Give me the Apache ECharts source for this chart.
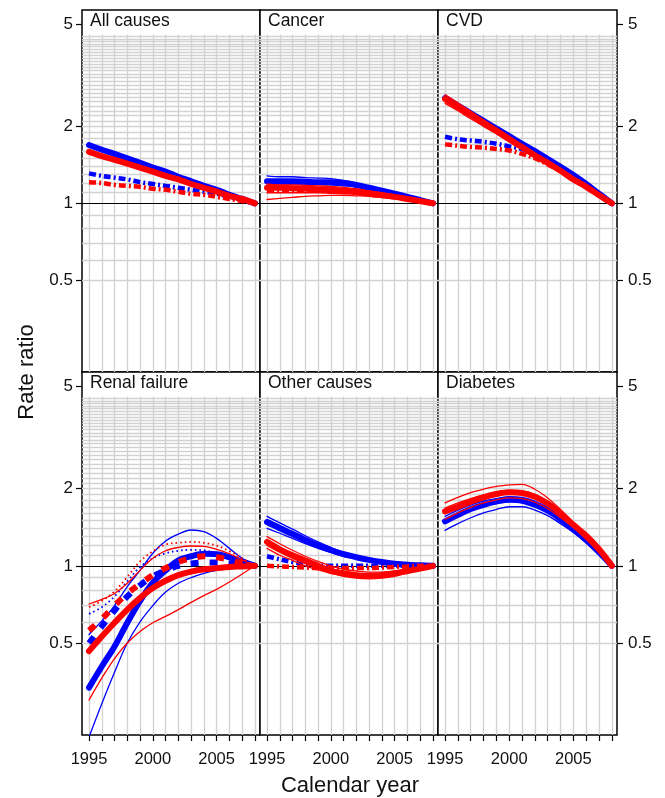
<!DOCTYPE html>
<html>
<head>
<meta charset="utf-8">
<script src="https://cdn.jsdelivr.net/npm/echarts@6/dist/echarts.min.js"></script>
<style>
  html, body { margin: 0; padding: 0; background: #fff; }
  #chart { width: 665px; height: 798px; }
</style>
</head>
<body>
<div id="chart"></div>
<script>
// ---- data ---------------------------------------------------------------
const years = [1995, 1996, 1997, 1998, 1999, 2000, 2001, 2002, 2003, 2004, 2005, 2006, 2007, 2008];
const xTickLabels = [1995, 2000, 2005];
const yTickLabels = [0.5, 1, 2, 5];
const panelTitles = ['All causes', 'Cancer', 'CVD', 'Renal failure', 'Other causes', 'Diabetes'];

// All causes
const allBlueSolid   = [1.69, 1.62, 1.56, 1.50, 1.44, 1.38, 1.33, 1.27, 1.22, 1.17, 1.13, 1.08, 1.04, 1.00];
const allRedSolid    = [1.59, 1.53, 1.48, 1.43, 1.38, 1.33, 1.28, 1.24, 1.19, 1.15, 1.11, 1.07, 1.04, 1.00];
const allBlueDashDot = [1.31, 1.28, 1.26, 1.24, 1.21, 1.19, 1.17, 1.15, 1.13, 1.11, 1.09, 1.06, 1.03, 1.00];
const allRedDashDot  = [1.21, 1.20, 1.18, 1.17, 1.16, 1.14, 1.13, 1.11, 1.09, 1.08, 1.06, 1.04, 1.02, 1.00];

// Cancer
const cancerBlueUpper  = [1.28, 1.27, 1.27, 1.26, 1.255, 1.25, 1.23, 1.20, 1.16, 1.11, 1.08, 1.05, 1.03, 1.00];
const cancerBlueMain   = [1.22, 1.22, 1.22, 1.215, 1.21, 1.21, 1.20, 1.18, 1.15, 1.12, 1.09, 1.06, 1.03, 1.00];
const cancerBlueLower  = [1.19, 1.19, 1.19, 1.19, 1.185, 1.18, 1.17, 1.16, 1.13, 1.10, 1.07, 1.05, 1.02, 1.00];
const cancerRedUpper   = [1.19, 1.18, 1.18, 1.175, 1.17, 1.165, 1.155, 1.14, 1.12, 1.10, 1.075, 1.05, 1.025, 1.00];
const cancerRedMain    = [1.15, 1.15, 1.145, 1.14, 1.135, 1.13, 1.12, 1.11, 1.09, 1.075, 1.06, 1.04, 1.02, 1.00];
const cancerRedMid     = [1.10, 1.10, 1.10, 1.10, 1.10, 1.095, 1.09, 1.085, 1.075, 1.06, 1.05, 1.035, 1.02, 1.00];
const cancerRedLower   = [1.035, 1.045, 1.055, 1.065, 1.07, 1.075, 1.075, 1.07, 1.065, 1.055, 1.04, 1.03, 1.015, 1.00];
const cancerRedDashDot = [1.13, 1.13, 1.13, 1.125, 1.12, 1.12, 1.11, 1.10, 1.09, 1.07, 1.06, 1.04, 1.02, 1.00];

// CVD
const cvdBlueSolid   = [2.58, 2.41, 2.25, 2.10, 1.96, 1.83, 1.71, 1.60, 1.49, 1.39, 1.29, 1.19, 1.09, 1.00];
const cvdRedUpper    = [2.66, 2.47, 2.29, 2.12, 1.97, 1.83, 1.69, 1.57, 1.46, 1.35, 1.25, 1.16, 1.08, 1.00];
const cvdRedMain     = [2.56, 2.38, 2.22, 2.06, 1.92, 1.78, 1.66, 1.54, 1.44, 1.34, 1.24, 1.16, 1.075, 1.00];
const cvdRedLower    = [2.46, 2.30, 2.14, 2.00, 1.87, 1.74, 1.62, 1.52, 1.41, 1.32, 1.23, 1.15, 1.07, 1.00];
const cvdBlueDashDot = [1.82, 1.78, 1.76, 1.74, 1.71, 1.67, 1.63, 1.56, 1.47, 1.37, 1.27, 1.18, 1.08, 1.00];
const cvdRedDashDot  = [1.70, 1.68, 1.66, 1.65, 1.63, 1.61, 1.56, 1.50, 1.42, 1.34, 1.25, 1.165, 1.08, 1.00];

// Renal failure
const renalBlueMain   = [0.335, 0.405, 0.485, 0.60, 0.73, 0.86, 0.96, 1.05, 1.09, 1.115, 1.11, 1.08, 1.04, 1.00];
const renalBlueUpper  = [0.54, 0.61, 0.70, 0.83, 0.96, 1.12, 1.25, 1.33, 1.38, 1.36, 1.28, 1.17, 1.07, 1.00];
const renalBlueLower  = [0.215, 0.29, 0.385, 0.50, 0.605, 0.70, 0.79, 0.855, 0.90, 0.935, 0.96, 0.975, 0.99, 1.00];
const renalBlueDashed = [0.50, 0.58, 0.67, 0.76, 0.84, 0.91, 0.96, 1.00, 1.02, 1.03, 1.03, 1.02, 1.01, 1.00];
const renalBlueDotted = [0.65, 0.69, 0.76, 0.87, 0.99, 1.07, 1.12, 1.145, 1.155, 1.15, 1.12, 1.085, 1.045, 1.00];
const renalRedMain    = [0.465, 0.53, 0.60, 0.675, 0.75, 0.82, 0.875, 0.92, 0.95, 0.97, 0.98, 0.99, 0.995, 1.00];
const renalRedUpper   = [0.71, 0.74, 0.78, 0.855, 0.96, 1.07, 1.145, 1.18, 1.195, 1.19, 1.16, 1.115, 1.055, 1.00];
const renalRedLower   = [0.30, 0.365, 0.435, 0.50, 0.555, 0.60, 0.635, 0.675, 0.72, 0.765, 0.81, 0.865, 0.93, 1.00];
const renalRedDashed  = [0.56, 0.62, 0.70, 0.78, 0.85, 0.92, 0.98, 1.035, 1.07, 1.09, 1.08, 1.055, 1.025, 1.00];
const renalRedDotted  = [0.69, 0.73, 0.795, 0.905, 1.04, 1.14, 1.21, 1.23, 1.24, 1.23, 1.20, 1.14, 1.07, 1.00];

// Other causes
const otherBlueUpper   = [1.56, 1.47, 1.39, 1.31, 1.24, 1.18, 1.13, 1.095, 1.065, 1.045, 1.03, 1.015, 1.005, 1.00];
const otherBlueMid     = [1.52, 1.44, 1.36, 1.29, 1.22, 1.17, 1.12, 1.09, 1.06, 1.04, 1.025, 1.012, 1.005, 1.00];
const otherBlueMain    = [1.48, 1.40, 1.33, 1.26, 1.20, 1.15, 1.11, 1.08, 1.055, 1.035, 1.02, 1.01, 1.005, 1.00];
const otherBlueLower   = [1.40, 1.34, 1.28, 1.22, 1.17, 1.13, 1.09, 1.065, 1.045, 1.03, 1.015, 1.007, 1.002, 1.00];
const otherBlueDashDot = [1.09, 1.06, 1.035, 1.015, 1.005, 1.00, 1.00, 1.00, 1.00, 1.00, 1.00, 1.00, 1.00, 1.00];
const otherRedUpper    = [1.30, 1.22, 1.15, 1.09, 1.04, 1.00, 0.97, 0.955, 0.945, 0.945, 0.955, 0.97, 0.985, 1.00];
const otherRedMid      = [1.20, 1.13, 1.07, 1.02, 0.98, 0.95, 0.925, 0.91, 0.905, 0.91, 0.92, 0.945, 0.97, 1.00];
const otherRedMain     = [1.24, 1.16, 1.10, 1.05, 1.00, 0.955, 0.935, 0.92, 0.915, 0.92, 0.935, 0.955, 0.975, 1.00];
const otherRedLower    = [1.17, 1.10, 1.05, 1.00, 0.965, 0.935, 0.91, 0.895, 0.89, 0.895, 0.91, 0.935, 0.965, 1.00];
const otherRedDashDot  = [1.00, 0.995, 0.99, 0.985, 0.98, 0.98, 0.98, 0.98, 0.98, 0.985, 0.99, 0.995, 1.00, 1.00];

// Diabetes
const diabBlueUpper = [1.56, 1.65, 1.73, 1.79, 1.83, 1.86, 1.85, 1.79, 1.69, 1.56, 1.42, 1.28, 1.14, 1.00];
const diabBlueMain  = [1.49, 1.58, 1.665, 1.73, 1.78, 1.81, 1.795, 1.73, 1.64, 1.52, 1.39, 1.26, 1.13, 1.00];
const diabBlueLower = [1.375, 1.46, 1.54, 1.61, 1.66, 1.70, 1.70, 1.65, 1.57, 1.46, 1.35, 1.23, 1.11, 1.00];
const diabRedUpper  = [1.76, 1.85, 1.93, 1.99, 2.04, 2.07, 2.08, 1.99, 1.84, 1.66, 1.48, 1.32, 1.16, 1.00];
const diabRedMid    = [1.68, 1.76, 1.83, 1.89, 1.94, 1.97, 1.96, 1.90, 1.78, 1.62, 1.46, 1.32, 1.16, 1.00];
const diabRedMain   = [1.63, 1.70, 1.78, 1.85, 1.905, 1.935, 1.925, 1.86, 1.75, 1.60, 1.445, 1.31, 1.16, 1.00];
const diabRedLower  = [1.52, 1.61, 1.69, 1.76, 1.81, 1.84, 1.83, 1.77, 1.67, 1.54, 1.41, 1.27, 1.13, 1.00];

// ---- which curves go in which panel, and how they are drawn --------------
const BLUE = '#0000ff', RED = '#ff0000';
const lineKinds = {
  thick:   { width: 6,   type: 'solid',        cap: 'round' },
  thin:    { width: 1.3, type: 'solid',        cap: 'round' },
  dashdot: { width: 4.5, type: [7, 3, 2, 3],   cap: 'butt' },
  dashed:  { width: 6,   type: [8, 11],        cap: 'butt' },
  dotted:  { width: 1.8, type: [1.6, 3],       cap: 'butt' }
};
const panelCurves = [
  [ [allBlueSolid, BLUE, 'thick'], [allBlueDashDot, BLUE, 'dashdot'],
    [allRedSolid, RED, 'thick'], [allRedDashDot, RED, 'dashdot'] ],
  [ [cancerBlueUpper, BLUE, 'thin'], [cancerBlueLower, BLUE, 'thin'], [cancerBlueMain, BLUE, 'thick'],
    [cancerRedUpper, RED, 'thin'], [cancerRedMain, RED, 'thick'], [cancerRedMid, RED, 'thin'],
    [cancerRedLower, RED, 'thin'], [cancerRedDashDot, RED, 'dashdot'] ],
  [ [cvdBlueSolid, BLUE, 'thick'], [cvdBlueDashDot, BLUE, 'dashdot'],
    [cvdRedUpper, RED, 'thin'], [cvdRedLower, RED, 'thin'], [cvdRedMain, RED, 'thick'],
    [cvdRedDashDot, RED, 'dashdot'] ],
  [ [renalBlueUpper, BLUE, 'thin'], [renalBlueLower, BLUE, 'thin'], [renalBlueDotted, BLUE, 'dotted'],
    [renalBlueMain, BLUE, 'thick'], [renalBlueDashed, BLUE, 'dashed'],
    [renalRedUpper, RED, 'thin'], [renalRedLower, RED, 'thin'], [renalRedDotted, RED, 'dotted'],
    [renalRedMain, RED, 'thick'], [renalRedDashed, RED, 'dashed'] ],
  [ [otherBlueUpper, BLUE, 'thin'], [otherBlueMid, BLUE, 'thin'], [otherBlueLower, BLUE, 'thin'],
    [otherBlueMain, BLUE, 'thick'], [otherBlueDashDot, BLUE, 'dashdot'],
    [otherRedUpper, RED, 'thin'], [otherRedMid, RED, 'thin'], [otherRedLower, RED, 'thin'],
    [otherRedMain, RED, 'thick'], [otherRedDashDot, RED, 'dashdot'] ],
  [ [diabBlueUpper, BLUE, 'thin'], [diabBlueLower, BLUE, 'thin'], [diabBlueMain, BLUE, 'thick'],
    [diabRedUpper, RED, 'thin'], [diabRedLower, RED, 'thin'], [diabRedMid, RED, 'thin'],
    [diabRedMain, RED, 'thick'] ]
];

// ---- layout ------------------------------------------------------------
const FONT = "'Liberation Sans', Arial, sans-serif";
const colLeft = [82, 260, 438], colWidth = [178, 178, 179];
const rowTop = [10, 372], rowHeight = [362, 363];
const X_MIN = 1994.45, X_MAX = 2008.4;
const Y_MIN = 0.219, Y_MAX = 5.7, GRID_TOP = 4.57;

// light reference grid: every year, every 0.1 from 0.5 up to the strip
const hGrid = [];
for (let k = 5; k <= 45; k++) if (k !== 10) hGrid.push(k / 10);

const grids = [], xAxes = [], yAxes = [], series = [], graphics = [];
for (let p = 0; p < 6; p++) {
  const r = Math.floor(p / 3), c = p % 3;
  grids.push({
    left: colLeft[c], top: rowTop[r], width: colWidth[c], height: rowHeight[r],
    show: true, borderColor: '#000', borderWidth: 1.5, backgroundColor: '#fff', containLabel: false
  });
  const bottom = r === 1;
  xAxes.push({
    type: 'value', gridIndex: p, min: X_MIN, max: X_MAX,
    axisLine: { show: false }, splitLine: { show: false },
    axisTick: { show: bottom, customValues: years, length: 6, inside: false,
                lineStyle: { color: '#000', width: 1.2 } },
    axisLabel: { show: bottom, customValues: xTickLabels, margin: 16,
                 fontSize: 16.5, color: '#111', fontFamily: FONT, formatter: v => String(Math.round(v)) }
  });
  const showY = c !== 1;
  yAxes.push({
    type: 'log', logBase: 10, gridIndex: p, min: Y_MIN, max: Y_MAX,
    position: c === 2 ? 'right' : 'left',
    axisLine: { show: false }, splitLine: { show: false }, minorTick: { show: false },
    axisTick: { show: showY, customValues: yTickLabels, length: 6, inside: false,
                lineStyle: { color: '#000', width: 1.2 } },
    axisLabel: { show: showY, customValues: yTickLabels, margin: c === 2 ? 11 : 9,
                 fontSize: 17, color: '#111', fontFamily: FONT,
                 formatter: v => String(+(+v).toPrecision(3)) }
  });

  // gray guide grid (below everything else)
  const gridLines = hGrid.map(v => ({ yAxis: v }));
  years.forEach(yr => gridLines.push([{ coord: [yr, Y_MIN] }, { coord: [yr, GRID_TOP] }]));
  series.push({
    type: 'line', xAxisIndex: p, yAxisIndex: p, data: [], silent: true, z: 1,
    markLine: { silent: true, z: 1, symbol: ['none', 'none'], label: { show: false },
                lineStyle: { color: '#d2d2d2', width: 1.3, type: 'solid' }, data: gridLines,
                animation: false }
  });
  // reference line at a ratio of 1
  series.push({
    type: 'line', xAxisIndex: p, yAxisIndex: p, data: [], silent: true, z: 2,
    markLine: { silent: true, z: 2, symbol: ['none', 'none'], label: { show: false },
                lineStyle: { color: '#000', width: 1.2, type: 'solid' }, data: [{ yAxis: 1 }],
                animation: false }
  });
  panelCurves[p].forEach(([vals, color, kind]) => {
    const k = lineKinds[kind];
    series.push({
      type: 'line', xAxisIndex: p, yAxisIndex: p, z: 3, silent: true,
      data: years.map((yr, i) => [yr, vals[i]]),
      smooth: 0.35, symbol: 'none', clip: true,
      lineStyle: { color, width: k.width, type: k.type, cap: k.cap }
    });
  });

  graphics.push({
    type: 'text', left: colLeft[c] + 8, top: rowTop[r] + 2, z: 10,
    style: { text: panelTitles[p], font: `17.5px ${FONT}`, fill: '#111' }
  });
}

graphics.push({
  type: 'text', x: 27, y: 372, rotation: Math.PI / 2, z: 10,
  style: { text: 'Rate ratio', font: `22px ${FONT}`, fill: '#111', align: 'center', verticalAlign: 'middle' }
});
graphics.push({
  type: 'text', x: 350, y: 786, z: 10,
  style: { text: 'Calendar year', font: `22px ${FONT}`, fill: '#111', align: 'center', verticalAlign: 'middle' }
});

const chart = echarts.init(document.getElementById('chart'), null, { renderer: 'canvas' });
chart.setOption({
  animation: false,
  backgroundColor: '#fff',
  grid: grids, xAxis: xAxes, yAxis: yAxes, series, graphic: graphics
});
</script>
</body>
</html>
